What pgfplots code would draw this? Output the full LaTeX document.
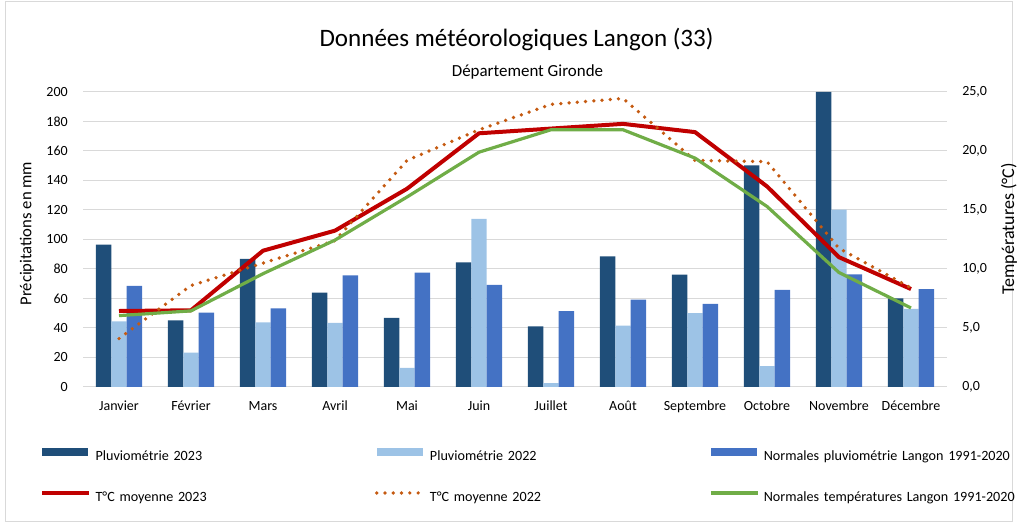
\documentclass[border=0pt]{standalone}
\usepackage{pgfplots}
\pgfplotsset{compat=1.18}
\usepackage{fontspec}
\setmainfont{Carlito}
\definecolor{c23}{HTML}{1F4E79}
\definecolor{c22}{HTML}{9DC3E6}
\definecolor{cnorm}{HTML}{4472C4}
\definecolor{tred}{HTML}{C00000}
\definecolor{torange}{HTML}{C55A11}
\definecolor{tgreen}{HTML}{70AD47}
\definecolor{gridc}{HTML}{D9D9D9}

\pgfplotstableread{
x r23 r22 rnorm
0 96.5 44.5 68.5
1 45.2 23.3 50.4
2 86.8 43.8 53.3
3 64.0 43.4 75.7
4 46.8 12.9 77.5
5 84.5 113.9 69.2
6 41.1 2.7 51.5
7 88.6 41.6 59.2
8 76.1 50.0 56.3
9 150.3 14.2 65.8
10 200.0 120.2 76.4
11 60.1 52.9 66.4
}\rain

\pgfplotstableread{
x t23 t22 tnorm
0 6.44 4.1 6.05
1 6.5 8.6 6.45
2 11.55 10.5 9.6
3 13.25 12.4 12.45
4 16.8 19.2 16.1
5 21.5 21.8 19.9
6 21.9 23.95 21.8
7 22.3 24.45 21.8
8 21.6 19.2 19.4
9 17.0 19.1 15.3
10 11.0 11.75 9.7
11 8.3 8.4 6.7
}\temps

\begin{document}
\begin{tikzpicture}
\useasboundingbox (0,0) rectangle (762.75pt,393pt);
\draw[gridc, line width=0.75pt] (3.75pt,1.5pt) rectangle (759pt,391.5pt);
\node[anchor=base, font=\fontsize{18.8}{22}\selectfont] at (387.4pt,357.75pt) {Données météorologiques Langon (33)};
\node[anchor=base, font=\fontsize{12.7}{15}\selectfont] at (395.6pt,335.5pt) {Département Gironde};

\begin{axis}[
  at={(62.25pt,102.75pt)}, anchor=south west,
  scale only axis, width=648pt, height=221.25pt,
  xmin=-0.5, xmax=11.5, ymin=0, ymax=200,
  ybar=0pt, bar width=11.6pt,
  xtick={0,...,11},
  xticklabels={Janvier,Février,Mars,Avril,Mai,Juin,Juillet,Août,Septembre,Octobre,Novembre,Décembre},
  ytick={0,20,...,200},
  yticklabel={\pgfmathprintnumber[assume math mode=true]{\tick}},
  ymajorgrids, grid style={gridc, line width=0.75pt},
  axis line style={draw=none}, major tick length=0pt,
  tick label style={font=\fontsize{10.5}{12}\selectfont},
  xticklabel style={anchor=north, inner sep=0pt, text height=8pt, text depth=2pt, yshift=-9.5pt},
  yticklabel style={anchor=east, inner sep=0pt, xshift=-11.25pt},
  ylabel={Précipitations en mm},
  every axis y label/.style={at={(axis description cs:-0.0648,0.520)}, rotate=90, anchor=center, font=\fontsize{12.5}{14}\selectfont},
]
\addplot[fill=c23, draw=none] table[x=x, y=r23] {\rain};
\addplot[fill=c22, draw=none] table[x=x, y=r22] {\rain};
\addplot[fill=cnorm, draw=none] table[x=x, y=rnorm] {\rain};
\end{axis}

\begin{axis}[
  at={(62.25pt,102.75pt)}, anchor=south west,
  scale only axis, width=648pt, height=221.25pt,
  xmin=-0.5, xmax=11.5, ymin=0, ymax=25,
  axis y line*=right, axis x line=none,
  axis line style={draw=none}, major tick length=0pt,
  ytick={0,5,...,25},
  yticklabel={\pgfmathprintnumber[fixed, fixed zerofill, precision=1, use comma, assume math mode=true]{\tick}},
  tick label style={font=\fontsize{10.5}{12}\selectfont},
  yticklabel style={anchor=west, inner sep=0pt, xshift=11.25pt},
  ylabel={Températures (°C)},
  every axis y label/.style={at={(axis description cs:1.0718,0.5356)}, rotate=90, anchor=center, font=\fontsize{13.5}{15}\selectfont},
  legend columns=3,
  legend image code/.code={\draw[#1] (0pt,3.6pt) -- (35pt,3.6pt);},
  legend style={at={(axis description cs:-0.0544,-0.196)}, anchor=north west, draw=none, fill=none,
    font=\fontsize{10.6}{13}\selectfont,
    nodes={text width=200pt, inner sep=0pt, align=left},
    /tikz/every odd column/.append style={column sep=3.5pt},
    /tikz/every even column/.append style={column sep=9.5pt},
    row sep=21.5pt},
]
\addlegendimage{legend image code/.code={\fill[c23] (0pt,1.1pt) rectangle (33.75pt,6.3pt);}}
\addlegendentry{Pluviométrie 2023}
\addlegendimage{legend image code/.code={\fill[c22] (0pt,1.1pt) rectangle (33.75pt,6.3pt);}}
\addlegendentry{Pluviométrie 2022}
\addlegendimage{legend image code/.code={\fill[cnorm] (0pt,1.1pt) rectangle (33.75pt,6.3pt);}}
\addlegendentry{Normales pluviométrie Langon 1991-2020}
\addplot[tred, line width=3pt, line join=round] table[x=x, y=t23] {\temps};
\addlegendentry{T°C moyenne 2023}
\addplot[torange, line width=2.8pt, line cap=round, dash pattern=on 0pt off 6.2pt] table[x=x, y=t22] {\temps};
\addlegendentry{T°C moyenne 2022}
\addplot[tgreen, line width=2.4pt, line join=round] table[x=x, y=tnorm] {\temps};
\addlegendentry{Normales températures Langon 1991-2020}
\end{axis}
\end{tikzpicture}
\end{document}
